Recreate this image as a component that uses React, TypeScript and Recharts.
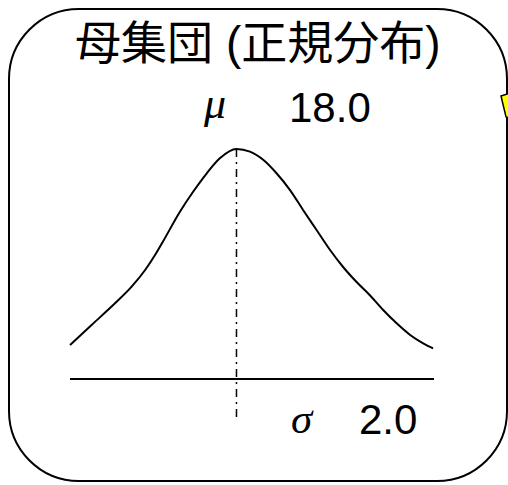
import React from "react";
import { LineChart, Line, XAxis, YAxis, ReferenceLine, Customized } from "recharts";

// Population distribution curve (x value, density)
const xValues = [14.3, 14.78, 15.3, 15.67, 15.97, 16.19, 16.37, 16.74, 17.04, 17.34, 17.63, 18.0,
  18.3, 18.6, 18.89, 19.19, 19.48, 19.78, 20.08, 20.37, 20.67, 20.97, 21.26, 21.56, 21.86, 22.15, 22.37];
const densities = [0.0296, 0.047, 0.0658, 0.0803, 0.0948, 0.1078, 0.1198, 0.1452, 0.163, 0.1789, 0.1919, 0.2,
  0.1977, 0.1904, 0.1789, 0.1643, 0.147, 0.1296, 0.1122, 0.0974, 0.0843, 0.0726, 0.06, 0.0484, 0.0383, 0.031, 0.0267];

const titleMain = "母集団";
const titleParen = "(正規分布)";
const muLabel = "μ";
const muValue = "18.0";
const sigmaLabel = "σ";
const sigmaValue = "2.0";
const mean = 18.0;

const data = xValues.map((x, i) => ({ x, y: densities[i] }));

const Overlay = () => (
  <g>
    <rect x={9} y={9} width={498} height={472} rx={70} ry={70} fill="none" stroke="#000" strokeWidth={2} />
    <polygon points="501,96 510,93 510,118 506,117" fill="#ffff00" stroke="#000" strokeWidth={1.5} />
    <text y={59} fontSize={46} fontFamily="'Liberation Sans', 'Noto Sans CJK JP'" fill="#000">
      <tspan x={75}>{titleMain}</tspan>
      <tspan x={226}>{titleParen}</tspan>
    </text>
    <text x={204} y={118} fontSize={44} fontStyle="italic" fontFamily="'Liberation Serif', serif" fill="#000">{muLabel}</text>
    <text x={289} y={122} fontSize={42} fontFamily="'Liberation Sans', Arial, sans-serif" fill="#000">{muValue}</text>
    <text x={291} y={433} fontSize={43} fontStyle="italic" fontFamily="'Liberation Serif', serif" fill="#000">{sigmaLabel}</text>
    <text x={359} y={434} fontSize={42} fontFamily="'Liberation Sans', Arial, sans-serif" fill="#000">{sigmaValue}</text>
  </g>
);

export default function App() {
  return (
    <div style={{ position: "absolute", left: 0, top: 0, width: 508, height: 485, background: "#fff" }}>
      <LineChart width={508} height={485} data={data} margin={{ top: 149, right: 74, bottom: 106, left: 70 }}>
        <XAxis dataKey="x" type="number" domain={[14.3, 22.39]} hide />
        <YAxis type="number" domain={[0, 0.2]} hide />
        <ReferenceLine y={0} stroke="#000" strokeWidth={2} />
        <ReferenceLine
          segment={[{ x: mean, y: 0.2 }, { x: mean, y: -0.033 }]}
          stroke="#000"
          strokeWidth={1.5}
          strokeDasharray="8 5 2 5"
          ifOverflow="visible"
        />
        <Line
          dataKey="y"
          type="monotone"
          stroke="#000"
          strokeWidth={2}
          dot={false}
          isAnimationActive={false}
        />
        <Customized component={Overlay} />
      </LineChart>
    </div>
  );
}
